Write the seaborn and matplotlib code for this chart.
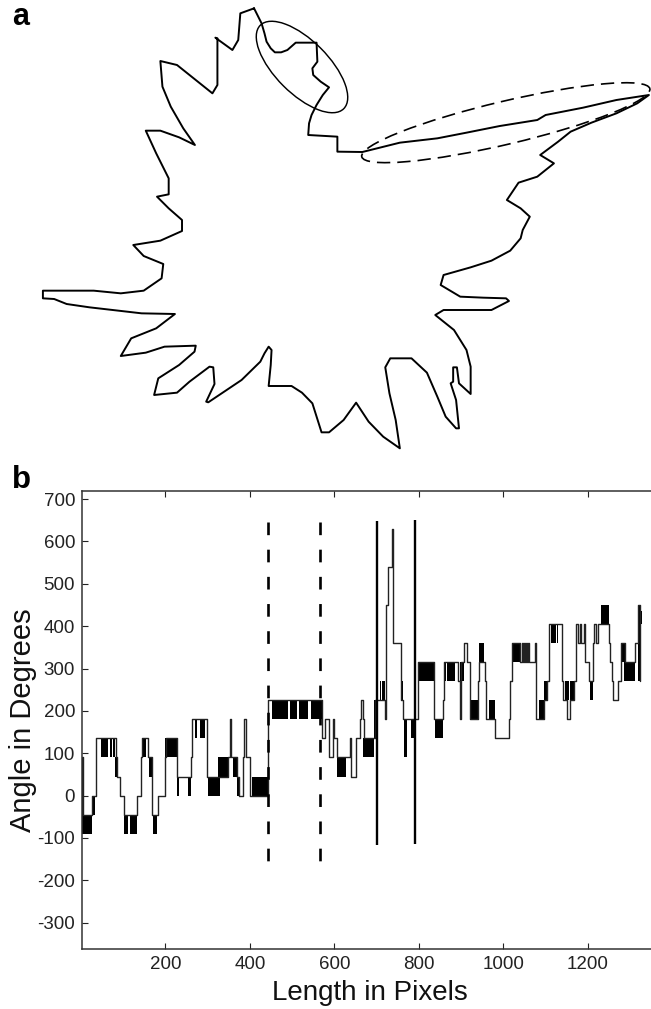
import matplotlib
matplotlib.use("Agg")
import matplotlib.pyplot as plt
from matplotlib.patches import Ellipse
import seaborn as sns
import numpy as np

# panel a: contour of the cell, arbitrary image units
outline_x = [610, 620, 628, 635, 640, 650, 660, 675, 690, 710, 760, 762, 750, 752, 770, 790, 775, 760, 748, 742, 740, 810, 810, 870, 905, 960, 1050, 1120, 1200, 1290, 1310, 1400, 1480, 1558,
             1530, 1480, 1420, 1370, 1340, 1297, 1330, 1290, 1245, 1217, 1250, 1272, 1255, 1250, 1225, 1180, 1130, 1065, 1058, 1105, 1160, 1215, 1222, 1180, 1065, 1045, 1090, 1120, 1130, 1130,
             1102, 1097, 1088, 1088, 1082, 1095, 1102, 1095, 1070, 1050, 1025, 988, 937, 925, 935, 950, 960, 920, 885, 855, 825, 790, 772, 750, 725, 700, 645, 650, 652, 645, 635, 625, 580, 500,
             495, 515, 512, 503, 455, 425, 370, 380, 430, 467, 470, 395, 350, 290, 315, 375, 420, 340, 270, 215, 160, 130, 103, 103, 225, 290, 345, 388, 392, 345, 320, 385, 437,
             437, 405, 377, 405, 405, 375, 350, 385, 430, 468, 440, 410, 390, 385, 425, 510, 522, 522, 517, 558, 572, 577, 610]
outline_y = [25, 50, 70, 100, 125, 145, 157, 157, 150, 128, 128, 185, 205, 225, 245, 262, 285, 315, 345, 370, 405, 410, 455, 456, 445, 428, 415, 398, 378, 360, 345, 323, 300, 285,
             310, 340, 368, 395, 425, 465, 490, 530, 548, 600, 625, 650, 690, 715, 752, 782, 802, 825, 855, 890, 893, 895, 903, 930, 930, 945, 990, 1050, 1100, 1182,
             1150, 1102, 1102, 1145, 1150, 1200, 1285, 1285, 1250, 1190, 1118, 1075, 1075, 1102, 1180, 1260, 1345, 1310, 1265, 1208, 1260, 1297, 1297, 1210, 1178, 1158, 1158, 1095, 1050, 1040, 1060, 1085, 1140, 1207,
             1205, 1152, 1102, 1100, 1145, 1178, 1185, 1135, 1095, 1055, 1037, 1040, 1058, 1068, 1015, 985, 942, 940, 930, 922, 912, 897, 895, 872, 872, 880, 872, 835, 792, 768, 735, 722, 693,
             660, 625, 590, 583, 535, 460, 392, 392, 412, 435, 385, 320, 260, 183, 195, 280, 255, 115, 113, 150, 120, 40, 25]

# panel b: angle trace, value holds until the next x
trace_x = [2, 4.5, 25.8, 36, 83.4, 86.5, 92.8, 102.3, 133.8, 142.5, 145.7, 158.3, 167.8, 183.6, 200, 201.7, 227, 260, 263.2, 298, 349.2, 353.2, 356.3, 369, 374.5, 384.8, 387, 390.3, 400.5, 444,
           570, 578, 588.3, 597.8, 600, 605.7, 627.8, 637.2, 639.6, 651.4, 660.9, 664, 667, 669.5, 696.4, 720, 722.4, 728, 736, 738.2, 757, 763.4, 797.4, 834.5, 856.5, 859.7, 891.3, 896, 898.4, 907,
           913.4, 919.7, 938.6, 941.8, 956.7, 959, 980.4, 1012, 1016, 1020, 1039.6, 1043.5, 1046, 1048, 1050.6, 1053, 1055.4, 1058.5, 1061, 1073.5, 1076, 1077.5, 1094.8, 1104, 1106.7, 1138.2, 1142,
           1150, 1156.4, 1167.4, 1170.6, 1172.2, 1176, 1180, 1183.2, 1191, 1193.4, 1201.3, 1211.6, 1214.7, 1217.9, 1224.2, 1248.7, 1252.6, 1256.6, 1259, 1270, 1277.9, 1288, 1311.8, 1317.3, 1322]
trace_y = [90, -45, 0, 135, 90, 45, 0, -45, 0, 90, 135, 90, -45, 0, 90, 135, 45, 90, 180, 45, 90, 180, 90, 45, 0, 90, 180, 90, 0, 225,
           135, 180, 90, 180, 135, 90, 90, 135, 45, 135, 180, 225, 180, 135, 225, 180, 450, 540, 630, 360, 225, 180, 315, 180, 225, 315, 270, 180, 315, 360,
           315, 180, 270, 315, 270, 180, 135, 180, 270, 360, 315, 360, 315, 360, 315, 360, 315, 360, 315, 360, 270, 180, 225, 270, 405, 270, 225,
           180, 225, 270, 360, 405, 360, 405, 360, 405, 315, 270, 360, 405, 360, 405, 360, 315, 270, 225, 270, 360, 315, 360, 450, 270]

# fast oscillation between two levels shows up as solid black
block_start = [2, 2, 29.7, 47, 53.4, 69.2, 77, 81, 103, 116.5, 148, 162.3, 170.1, 200, 228.5, 254.6, 270.4, 282.2, 302, 325.6, 361, 369, 404.5, 451.8, 495.2, 517.3, 544.1, 605.7,
               668.8, 694, 708.2, 713.7, 759.5, 765.8, 780.8, 799, 838.4, 859.7, 866, 897.6, 919.7, 943.3, 964.6, 1019.9, 1083, 1094.8, 1112.2, 1126.4, 1146, 1158, 1203.7, 1230.5, 1277.9, 1285.8, 1320.5, 1317.3]
block_end = [25.8, 6, 34.4, 51.8, 65.2, 73, 81, 86.5, 111, 133.8, 154.4, 167.8, 181.2, 227, 232.5, 260, 274.3, 294, 329.5, 349.2, 369, 374.5, 444, 491.3, 512.6, 538.6, 570.2, 627.8,
             694, 698.7, 710.6, 720, 763.4, 771.3, 791, 834.5, 856.5, 864.4, 885.7, 907, 938.6, 952.8, 980.4, 1039.6, 1094.8, 1104.3, 1124, 1128.7, 1154, 1167.4, 1211.6, 1248.7, 1288, 1311.8, 1327.6, 1322]
block_low = [-90, -45, -45, 90, 90, 90, 90, 45, -90, -90, 90, 45, -90, 90, 0, 0, 135, 135, 0, 45, 45, 0, 0, 180, 180, 180, 180, 45,
             90, 135, 225, 225, 225, 90, 135, 270, 135, 270, 270, 270, 180, 315, 180, 315, 180, 225, 360, 360, 225, 225, 225, 405, 315, 270, 405, 270]
block_high = [-45, 90, 0, 135, 135, 135, 135, 90, -45, -45, 135, 90, -45, 135, 45, 45, 180, 180, 45, 90, 90, 45, 45, 225, 225, 225, 225, 90,
              135, 225, 270, 270, 270, 180, 180, 315, 180, 315, 315, 315, 225, 360, 225, 360, 225, 270, 405, 405, 270, 270, 270, 450, 360, 315, 435, 450]

dashed_x = [443, 567]
dashed_low = [-158, -156]
dashed_high = [645, 647]
solid_x = [700, 790]
solid_low = [-117, -115]
solid_high = [649, 650]

x_ticks = [200, 400, 600, 800, 1000, 1200]
y_ticks = [-300, -200, -100, 0, 100, 200, 300, 400, 500, 600, 700]

sns.set_theme(style="ticks")
plt.rcParams['font.family'] = ['Liberation Sans', 'DejaVu Sans']
plt.rcParams['axes.unicode_minus'] = False

W, H = 651, 1009
fig = plt.figure(figsize=(W / 100, H / 100), dpi=100)

# top panel
ax_a = fig.add_axes([0, 1 - 480 / H, 1, 480 / H])
sns.lineplot(x=outline_x, y=outline_y, sort=False, estimator=None, color="black", lw=1.4, ax=ax_a)
ax_a.set_xlim(0, 1563)
ax_a.set_ylim(1440, 0)
ax_a.axis("off")

# ellipses go on a pixel scaled overlay so they keep their shape
ax_e = fig.add_axes([0, 1 - 480 / H, 1, 480 / H])
ax_e.set_xlim(0, 651)
ax_e.set_ylim(480, 0)
ax_e.axis("off")
ax_e.add_patch(Ellipse((302, 67), 118, 53, angle=45, fill=False, ec="black", lw=1.05))
ax_e.add_patch(Ellipse((505.8, 122.7), 296, 43, angle=-13.3, fill=False, ec="black", lw=1.2, ls=(0, (8, 4.2))))

# bottom panel
ax_b = fig.add_axes([82 / W, 1 - 949 / H, 569 / W, 458 / H])
ax_b.bar(block_start, np.array(block_high) - np.array(block_low), width=np.array(block_end) - np.array(block_start),
         bottom=block_low, align="edge", color="black", lw=0)
sns.lineplot(x=trace_x, y=trace_y, sort=False, estimator=None, drawstyle="steps-post", color="#222222", lw=1.0, ax=ax_b)
ax_b.vlines(dashed_x, dashed_high, dashed_low, color="black", lw=1.9, linestyles=[(0, (4.8, 5.5))])
ax_b.vlines(solid_x, solid_low, solid_high, color="black", lw=1.7)

ax_b.set_xlim(3, 1349)
ax_b.set_ylim(-362, 719)
ax_b.set_xticks(x_ticks)
ax_b.set_yticks(y_ticks)
ax_b.tick_params(direction="in", length=4.5, width=0.8, top=True, right=False, labelsize=13.5, color="#222222", labelcolor="#222222", pad=5)
for s in ax_b.spines.values():
    s.set_linewidth(1.1)
    s.set_color("#333333")
ax_b.spines["right"].set_visible(False)
ax_b.set_xlabel("Length in Pixels", fontsize=20, color="#111111", labelpad=4)
ax_b.xaxis.set_label_coords(0.506, -31 / 458)
ax_b.set_ylabel("Angle in Degrees", fontsize=21, color="#111111")
ax_b.yaxis.set_label_coords(-45 / 569, 0.5)

fig.text(12 / W, 1 - 25 / H, "a", fontsize=22, fontweight="bold", color="black")
fig.text(12 / W, 1 - 488 / H, "b", fontsize=22.5, fontweight="bold", color="black")

fig.savefig("out.png", dpi=100)
